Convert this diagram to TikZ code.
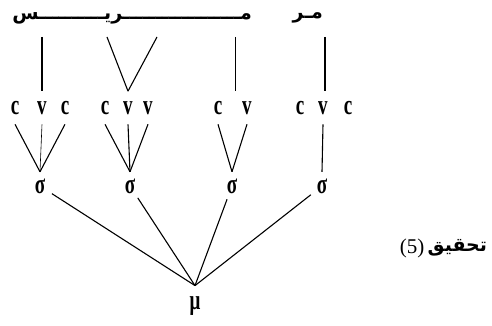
\documentclass[tikz,border=0pt]{standalone}
\usepackage{graphicx}
\usepackage{fontspec}
\setmainfont{Liberation Serif}
\newfontfamily\arabicfont[Script=Arabic]{DejaVu Sans}
\TeXXeTstate=1
\usepackage{tikz}
\usetikzlibrary{positioning, calc}
\newcommand{\narrow}[1]{\scalebox{0.68}[1]{\bfseries #1}}
\newcommand{\kd}{ـ}

\begin{document}
\begin{tikzpicture}[
  x=1pt, y=-1pt,
  font=\fontsize{28}{28}\selectfont,
  seg/.style={inner sep=0pt, outer sep=10pt, anchor=base},
  syl/.style={circle, inner sep=0pt, minimum size=28pt},
  mora/.style={inner sep=0pt, outer sep=11pt},
  ln/.style={line width=1.1pt, black},
  thin/.style={line width=0.6pt, black},
  arab/.style={inner sep=0pt, font=\arabicfont\bfseries\fontsize{19}{19}\selectfont}
]
  \useasboundingbox (0,0) rectangle (492,326);
  % top word
  \node[arab, anchor=east] (w1) at (252,18) {\beginR م\kd\kd\kd\kd\kd\kd\kd\kd\kd\kd\kd\kd\kd\kd\kd\kd\kd\kd ري\kd\kd\kd\kd\kd\kd\kd\kd\kd\kd س\endR};
  \node[arab, anchor=east] (w2) at (323,18) {\beginR م\kd ر\endR};
  % segments
  \node[seg] (c1a) at (15,114) {\narrow{c}};
  \node[seg] (v1)  at (42,114) {\narrow{v}};
  \node[seg] (c1b) at (65,114) {\narrow{c}};
  \node[seg] (c2)  at (105,114) {\narrow{c}};
  \node[seg] (v2a) at (128,114) {\narrow{v}};
  \node[seg] (v2b) at (148,114) {\narrow{v}};
  \node[seg] (c3)  at (218,114) {\narrow{c}};
  \node[seg] (v3)  at (247,114) {\narrow{v}};
  \node[seg] (c4a) at (300,114) {\narrow{c}};
  \node[seg] (v4)  at (323,114) {\narrow{v}};
  \node[seg] (c4b) at (348,114) {\narrow{c}};
  % syllables and foot
  \node[syl] (s1) at (40,186) {\narrow{σ}};
  \node[syl] (s2) at (130,186) {\narrow{σ}};
  \node[syl] (s3) at (232,186) {\narrow{σ}};
  \node[syl] (s4) at (322,186) {\narrow{σ}};
  \node[mora] (mu) at (195,306) {\narrow{μ}};
  \node[inner sep=0pt, font=\fontsize{21}{21}\selectfont] (num) at (412,248) {(5)};
  \node[arab, font=\arabicfont\bfseries\fontsize{19}{19}\selectfont, right=3pt of num] (lbl) {\beginR تحقيق\endR};
  % links to the word
  \coordinate (t1)  at (42,37);
  \coordinate (t2a) at (107,37);
  \coordinate (t2b) at (157,37);
  \coordinate (t3)  at (235,37);
  \coordinate (t4)  at (325,37);
  \draw[ln] (t1) -- (t1 |- v1.north);
  \draw[ln] (t2a) -- (v2a.north);
  \draw[ln] (t2b) -- (v2a.north);
  \draw[thin] (t3) -- (t3 |- v3.north);
  \draw[ln] (t4) -- (t4 |- v4.north);
  % segments to syllables
  \foreach \a/\b in {c1a/s1,c1b/s1,c2/s2,v2a/s2,v2b/s2,c3/s3,v3/s3,v4/s4}
    \draw[ln] (\a.south) -- (\b.north);
  \draw[thin] (v1.south) -- (s1.north);
  % syllables to foot
  \foreach \a in {s1,s2,s3,s4}
    \draw[ln] (\a) -- (mu.north);
\end{tikzpicture}
\end{document}
